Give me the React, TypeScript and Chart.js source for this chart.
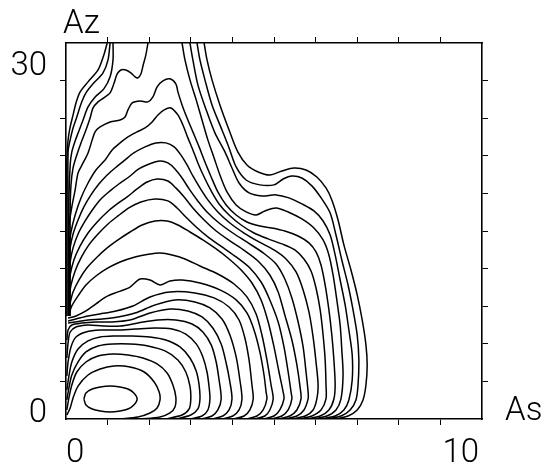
import React, { useEffect, useRef } from 'react';
import { Chart, registerables } from 'chart.js';

Chart.register(...registerables);

type P = [number, number];

// Axis ticks and labels
const xTickValues = [0, 10];
const xTickLabels = ['0', '10'];
const yTickValues = [0, 30];
const yTickLabels = ['0', '30'];
const xTitle = 'As';
const yTitle = 'Az';

// Contour lines (As, Az), innermost first
const peakLoop: P[] = [[0.43,1.6],[0.48,2.08],[0.63,2.39],[0.82,2.55],[1.06,2.63],[1.30,2.55],[1.49,2.39],[1.63,2.08],[1.71,1.6],[1.63,1.12],[1.49,0.80],[1.30,0.64],[1.06,0.56],[0.82,0.64],[0.63,0.80],[0.48,1.12],[0.43,1.6]];
const c22: P[] = [[0.02,0.32],[0.10,0.88],[0.17,1.68],[0.29,2.63],[0.53,3.51],[0.82,3.99],[1.15,4.23],[1.54,4.15],[1.88,3.75],[2.12,2.95],[2.24,2.15],[2.26,1.52],[2.19,0.88],[2.02,0.48],[1.73,0.16],[1.30,0]];
const c21: P[] = [[0.02,0.72],[0.07,1.68],[0.14,2.71],[0.26,3.75],[0.48,4.55],[0.77,5.03],[1.13,5.19],[1.49,5.11],[1.85,4.87],[2.19,4.39],[2.43,3.67],[2.57,2.71],[2.64,1.76],[2.62,0.96],[2.50,0.48],[2.26,0.16],[1.78,0]];
const c20: P[] = [[0.02,1.52],[0.07,2.47],[0.14,3.51],[0.29,4.55],[0.48,5.35],[0.77,5.83],[1.13,5.99],[1.54,5.99],[1.97,5.83],[2.38,5.43],[2.69,4.71],[2.88,3.75],[2.98,2.63],[3.00,1.60],[2.96,0.80],[2.79,0.32],[2.38,0]];
const c19: P[] = [[0.02,2.31],[0.07,3.43],[0.14,4.55],[0.29,5.59],[0.53,6.23],[0.82,6.54],[1.18,6.62],[1.59,6.62],[2.02,6.54],[2.40,6.30],[2.74,5.75],[2.98,4.87],[3.13,3.83],[3.20,2.71],[3.22,1.60],[3.17,0.80],[3.00,0.32],[2.64,0]];
const c18: P[] = [[0.02,3.43],[0.05,4.55],[0.12,5.75],[0.24,6.54],[0.48,6.94],[0.82,7.10],[1.23,7.10],[1.66,7.18],[2.14,7.26],[2.55,7.18],[2.88,6.78],[3.13,5.99],[3.29,4.95],[3.39,3.75],[3.44,2.55],[3.46,1.60],[3.41,0.72],[3.27,0.24],[2.98,0]];
const c17: P[] = [[0.02,4.87],[0.05,6.07],[0.10,6.94],[0.24,7.34],[0.53,7.50],[0.89,7.42],[1.30,7.42],[1.73,7.66],[2.21,7.90],[2.64,7.90],[3.03,7.58],[3.29,6.94],[3.49,5.91],[3.61,4.55],[3.68,3.11],[3.73,1.60],[3.65,0.72],[3.51,0.24],[3.25,0]];
const c16: P[] = [[0.02,6.30],[0.05,7.10],[0.14,7.50],[0.38,7.66],[0.72,7.74],[1.11,7.74],[1.54,7.90],[2.02,8.46],[2.50,8.78],[2.93,8.62],[3.27,8.14],[3.53,7.26],[3.73,5.99],[3.85,4.47],[3.94,2.95],[3.99,1.60],[3.92,0.72],[3.77,0.24],[3.51,0]];
const c15: P[] = [[0.05,7.66],[0.22,7.74],[0.53,7.90],[0.87,7.98],[1.25,8.14],[1.66,8.46],[2.14,9.10],[2.62,9.50],[3.10,9.34],[3.46,8.86],[3.75,7.98],[3.94,6.70],[4.09,4.95],[4.18,3.11],[4.23,1.60],[4.16,0.72],[4.01,0.24],[3.75,0]];
const c14: P[] = [[0.05,7.82],[0.24,7.98],[0.53,8.22],[0.82,8.38],[1.20,8.62],[1.61,9.02],[2.02,9.74],[2.50,10.14],[3.10,10.06],[3.56,9.66],[3.92,8.94],[4.16,7.90],[4.30,6.46],[4.40,4.71],[4.47,2.71],[4.50,1.60],[4.42,0.72],[4.28,0.24],[4.01,0]];
const c13: P[] = [[0.05,8.06],[0.24,8.22],[0.48,8.62],[0.72,9.18],[0.96,9.74],[1.25,10.14],[1.54,10.53],[1.78,11.17],[2.02,11.09],[2.26,10.69],[2.50,11.01],[2.79,11.09],[3.22,10.85],[3.70,10.30],[4.09,9.50],[4.35,8.46],[4.52,7.10],[4.66,5.35],[4.76,3.51],[4.81,2.15],[4.83,1.60],[4.74,0.72],[4.59,0.24],[4.33,0]];
const c12: P[] = [[0.07,8.38],[0.14,9.02],[0.29,9.82],[0.48,10.69],[0.72,11.41],[1.01,12.05],[1.30,12.53],[1.66,12.93],[2.02,13.17],[2.26,13.25],[2.55,13.09],[2.86,12.77],[3.22,12.21],[3.65,11.57],[4.04,10.77],[4.35,9.74],[4.57,8.38],[4.71,6.70],[4.83,4.71],[4.93,2.71],[4.98,1.60],[4.90,0.72],[4.78,0.24],[4.52,0]];
const c11: P[] = [[0.07,8.62],[0.10,9.26],[0.17,10.14],[0.31,11.09],[0.50,12.05],[0.75,12.93],[0.99,13.65],[1.25,14.29],[1.54,14.92],[1.83,15.48],[2.14,15.80],[2.43,15.80],[2.69,15.48],[2.98,14.92],[3.29,14.29],[3.61,13.57],[3.92,12.77],[4.21,11.89],[4.47,10.85],[4.69,9.50],[4.86,7.74],[5.00,5.75],[5.12,3.75],[5.22,2.15],[5.24,1.60],[5.14,0.72],[5.00,0.24],[4.74,0]];
const c10: P[] = [[0.07,8.54],[0.07,9.50],[0.12,10.69],[0.22,11.81],[0.36,12.85],[0.55,13.89],[0.77,14.76],[1.01,15.56],[1.25,16.20],[1.51,16.84],[1.80,17.32],[2.14,17.56],[2.45,17.40],[2.67,16.84],[2.88,16.12],[3.13,15.32],[3.41,14.53],[3.75,13.73],[4.09,12.93],[4.42,12.05],[4.69,10.93],[4.90,9.50],[5.10,7.74],[5.24,5.75],[5.34,3.75],[5.41,2.15],[5.43,1.60],[5.34,0.72],[5.19,0.24],[4.93,0]];
const c09: P[] = [[0.07,8.46],[0.07,10.30],[0.10,11.49],[0.19,12.69],[0.34,13.81],[0.53,14.84],[0.75,15.72],[0.99,16.52],[1.23,17.16],[1.47,17.72],[1.71,18.36],[1.95,18.91],[2.19,19.15],[2.45,18.99],[2.64,18.44],[2.84,17.72],[3.05,16.84],[3.32,15.88],[3.61,15.00],[3.94,14.21],[4.30,13.41],[4.64,12.53],[4.90,11.49],[5.10,10.14],[5.26,8.30],[5.43,6.30],[5.55,4.31],[5.63,2.47],[5.65,1.60],[5.55,0.72],[5.38,0.24],[5.10,0]];
const c08: P[] = [[0.07,8.38],[0.07,11.49],[0.10,12.53],[0.17,13.65],[0.29,14.76],[0.46,15.80],[0.65,16.76],[0.84,17.56],[1.06,18.20],[1.27,18.75],[1.51,19.31],[1.75,19.95],[2.00,20.35],[2.26,20.59],[2.45,20.43],[2.62,19.95],[2.79,19.23],[2.96,18.36],[3.15,17.48],[3.39,16.52],[3.68,15.64],[4.01,14.84],[4.38,14.05],[4.74,13.25],[5.05,12.37],[5.26,11.17],[5.43,9.66],[5.58,7.74],[5.70,5.75],[5.77,3.75],[5.82,2.15],[5.82,1.60],[5.72,0.72],[5.55,0.24],[5.26,0]];
const c07: P[] = [[0.07,8.30],[0.07,12.53],[0.10,13.65],[0.17,14.76],[0.29,15.88],[0.43,16.92],[0.60,17.88],[0.79,18.75],[0.99,19.47],[1.18,20.03],[1.39,20.59],[1.63,21.23],[1.90,21.71],[2.16,22.03],[2.40,22.03],[2.60,21.71],[2.76,21.07],[2.91,20.27],[3.05,19.39],[3.22,18.44],[3.41,17.48],[3.65,16.52],[3.94,15.64],[4.28,14.84],[4.64,14.13],[5.00,13.49],[5.29,12.77],[5.53,11.73],[5.70,10.30],[5.84,8.54],[5.94,6.54],[6.01,4.55],[6.06,2.71],[6.03,1.60],[5.94,0.72],[5.75,0.24],[5.43,0]];
const c06: P[] = [[0.07,8.22],[0.07,13.49],[0.12,14.92],[0.22,16.28],[0.36,17.64],[0.53,18.83],[0.72,19.87],[0.94,20.67],[1.11,21.47],[1.30,22.03],[1.49,22.51],[1.71,22.91],[1.90,23.22],[2.07,23.70],[2.21,24.26],[2.36,24.66],[2.52,24.82],[2.69,24.26],[2.81,23.46],[2.93,22.43],[3.05,21.47],[3.17,20.43],[3.32,19.31],[3.49,18.20],[3.68,17.16],[3.92,16.28],[4.21,15.48],[4.52,14.84],[4.86,14.37],[5.19,13.97],[5.50,13.49],[5.72,12.77],[5.89,11.81],[6.01,10.45],[6.11,8.70],[6.18,6.70],[6.23,4.71],[6.25,2.71],[6.25,1.60],[6.13,0.72],[5.91,0.24],[5.60,0]];
const c05: P[] = [[0.07,8.22],[0.07,12.69],[0.07,15.32],[0.14,16.92],[0.22,18.28],[0.29,19.63],[0.41,20.43],[0.53,21.23],[0.63,22.27],[0.70,22.91],[0.82,23.30],[1.06,23.70],[1.30,23.86],[1.42,24.10],[1.49,24.66],[1.59,25.22],[1.78,25.38],[1.97,25.30],[2.09,25.70],[2.19,26.50],[2.33,26.98],[2.50,27.14],[2.64,26.74],[2.69,26.10],[2.79,25.06],[2.91,24.02],[3.05,22.91],[3.20,21.71],[3.34,20.51],[3.49,19.31],[3.65,18.12],[3.85,17.08],[4.09,16.28],[4.35,15.72],[4.66,15.40],[4.95,15.24],[5.26,15.00],[5.58,14.60],[5.84,14.05],[6.01,13.33],[6.13,12.29],[6.23,10.69],[6.32,8.70],[6.39,6.70],[6.44,4.71],[6.47,2.71],[6.44,1.60],[6.32,0.72],[6.11,0.24],[5.77,0]];
const c04Left: P[] = [[1.97,30],[1.92,29.05],[1.85,28.17],[1.80,27.53],[1.73,27.22],[1.66,27.30],[1.56,27.61],[1.44,27.85],[1.32,27.85],[1.23,27.53],[1.15,26.74],[1.06,26.02],[0.91,25.62],[0.77,25.30],[0.65,24.82],[0.58,24.02],[0.48,23.06],[0.36,22.03],[0.26,21.07],[0.17,20.03],[0.12,18.68],[0.10,16.68],[0.10,12.69],[0.10,8.22]];
const c04Right: P[] = [[2.79,30],[2.86,28.65],[2.98,27.06],[3.13,25.46],[3.27,23.86],[3.41,22.27],[3.56,20.83],[3.70,19.47],[3.87,18.12],[4.09,17.08],[4.33,16.52],[4.57,16.28],[4.78,16.60],[5.05,16.84],[5.34,16.52],[5.67,15.96],[5.96,15.24],[6.18,14.29],[6.32,13.09],[6.42,11.49],[6.51,9.50],[6.59,7.50],[6.63,5.51],[6.66,3.51],[6.61,1.60],[6.49,0.72],[6.27,0.24],[5.94,0]];
const c03Left: P[] = [[1.13,30],[1.13,28.65],[1.06,27.30],[0.91,26.34],[0.70,25.70],[0.53,24.90],[0.41,23.86],[0.31,22.98],[0.22,22.19],[0.14,21.31],[0.10,20.27],[0.07,17.48],[0.07,12.69],[0.07,8.22]];
const c03Right: P[] = [[2.98,30],[3.05,28.65],[3.17,26.66],[3.37,24.66],[3.58,22.83],[3.82,21.31],[3.99,20.03],[4.16,18.83],[4.40,18.04],[4.71,17.80],[5.05,17.88],[5.36,17.64],[5.67,17.16],[5.96,16.60],[6.18,15.80],[6.35,14.68],[6.47,13.09],[6.59,11.09],[6.71,9.10],[6.80,7.10],[6.88,5.11],[6.88,3.11],[6.80,1.52],[6.68,0.72],[6.47,0.24],[6.11,0]];
const c02Left: P[] = [[1.06,30],[1.01,28.65],[0.89,27.61],[0.67,26.82],[0.48,26.02],[0.36,25.14],[0.26,24.10],[0.17,23.22],[0.10,22.27],[0.05,21.31],[0.05,15.88],[0.05,11.09],[0.05,8.22]];
const c02Right: P[] = [[3.15,30],[3.22,28.65],[3.34,27.06],[3.51,25.06],[3.75,23.06],[3.92,21.63],[4.09,20.11],[4.33,19.07],[4.66,18.68],[5.00,18.68],[5.22,19.15],[5.43,19.39],[5.67,19.23],[5.91,18.60],[6.15,17.56],[6.35,16.44],[6.49,14.68],[6.63,12.69],[6.78,10.69],[6.90,8.70],[7.00,6.70],[7.04,4.71],[7.02,2.71],[6.97,1.52],[6.83,0.72],[6.61,0.24],[6.27,0]];
const c01Left: P[] = [[0.99,30],[0.91,29.05],[0.77,27.85],[0.53,26.90],[0.34,26.10],[0.24,25.22],[0.17,24.26],[0.10,23.30],[0.05,22.27],[0.02,20.67],[0.02,15.88],[0.02,11.09],[0.02,8.22]];
const c01Right: P[] = [[3.32,30],[3.39,28.65],[3.51,27.06],[3.70,25.06],[3.92,23.06],[4.13,21.31],[4.35,20.27],[4.62,19.71],[4.90,19.47],[5.19,19.79],[5.48,20.03],[5.77,19.87],[6.03,19.31],[6.25,18.44],[6.39,17.48],[6.54,15.88],[6.68,13.89],[6.85,11.89],[7.00,9.90],[7.12,7.90],[7.21,5.91],[7.24,4.31],[7.21,2.71],[7.14,1.52],[7.00,0.72],[6.78,0.24],[6.47,0]];

const contours: P[][] = [
  peakLoop, c22, c21, c20, c19, c18, c17, c16, c15, c14, c13, c12, c11, c10, c09, c08, c07, c06, c05,
  c04Left, c04Right, c03Left, c03Right, c02Left, c02Right, c01Left, c01Right,
];

const FONT = '300 33px Roboto, "Liberation Sans", sans-serif';

export default function App() {
  const ref = useRef<HTMLCanvasElement>(null);

  useEffect(() => {
    if (!ref.current) return;
    let chart: Chart | null = null;
    let cancelled = false;

    const textPlugin = {
      id: 'plotterText',
      afterDraw(c: any) {
        const { ctx, chartArea } = c;
        const xs = c.scales.x;
        const ys = c.scales.y;
        ctx.save();
        ctx.fillStyle = '#000';
        ctx.font = FONT;
        ctx.textBaseline = 'alphabetic';
        xTickValues.forEach((v, i) => {
          const px = xs.getPixelForValue(v);
          ctx.textAlign = i === 0 ? 'left' : 'right';
          ctx.fillText(xTickLabels[i], i === 0 ? px : px - 3, chartArea.bottom + 43);
        });
        yTickValues.forEach((v, i) => {
          const py = ys.getPixelForValue(v);
          ctx.textAlign = 'right';
          ctx.fillText(yTickLabels[i], chartArea.left - 19, i === 0 ? py + 3 : py + 32);
        });
        ctx.textAlign = 'left';
        ctx.fillText(yTitle, chartArea.left - 3, chartArea.top - 10);
        ctx.fillText(xTitle, chartArea.right + 23, chartArea.bottom + 1);
        ctx.restore();
      },
    };

    const hideEnds = (lo: number, hi: number) => (c: any) =>
      c.tick && (c.tick.value === lo || c.tick.value === hi) ? 'rgba(0,0,0,0)' : '#000';

    const axisCommon = (lo: number, hi: number) => ({
      type: 'linear' as const,
      min: lo,
      max: hi,
      ticks: { display: false, stepSize: hi === 10 ? 1 : 3 },
      grid: {
        drawOnChartArea: false,
        drawTicks: true,
        tickLength: 6,
        lineWidth: 1,
        color: hideEnds(lo, hi),
      },
      border: { display: true, color: '#000', width: 1.6 },
    });

    const build = () => {
      if (cancelled || !ref.current) return;
      chart = new Chart(ref.current, {
        type: 'line',
        data: {
          datasets: contours.map((c) => ({
            data: c.map(([x, y]) => ({ x, y })),
            borderColor: '#000',
            borderWidth: 1.5,
            pointRadius: 0,
            tension: 0.3,
            fill: false,
            xAxisID: 'x',
            yAxisID: 'y',
          })),
        },
        options: {
          responsive: false,
          animation: false,
          devicePixelRatio: 1,
          layout: { padding: { left: 60, top: 37, right: 57, bottom: 45 } },
          plugins: { legend: { display: false }, tooltip: { enabled: false } },
          scales: {
            x: { ...axisCommon(0, 10), position: 'bottom' },
            x2: { ...axisCommon(0, 10), position: 'top' },
            y: { ...axisCommon(0, 30), position: 'left' },
            y2: { ...axisCommon(0, 30), position: 'right' },
          },
        } as any,
        plugins: [textPlugin],
      });
    };

    const fonts: any = (document as any).fonts;
    if (fonts && fonts.load) {
      fonts.load(FONT, '0123As Az').then(build, build);
    } else {
      build();
    }

    return () => {
      cancelled = true;
      if (chart) chart.destroy();
    };
  }, []);

  return (
    <div style={{ position: 'fixed', left: 0, top: 0, width: 545, height: 470, background: '#fff' }}>
      <canvas ref={ref} width={545} height={470} style={{ display: 'block', width: 545, height: 470 }} />
    </div>
  );
}
